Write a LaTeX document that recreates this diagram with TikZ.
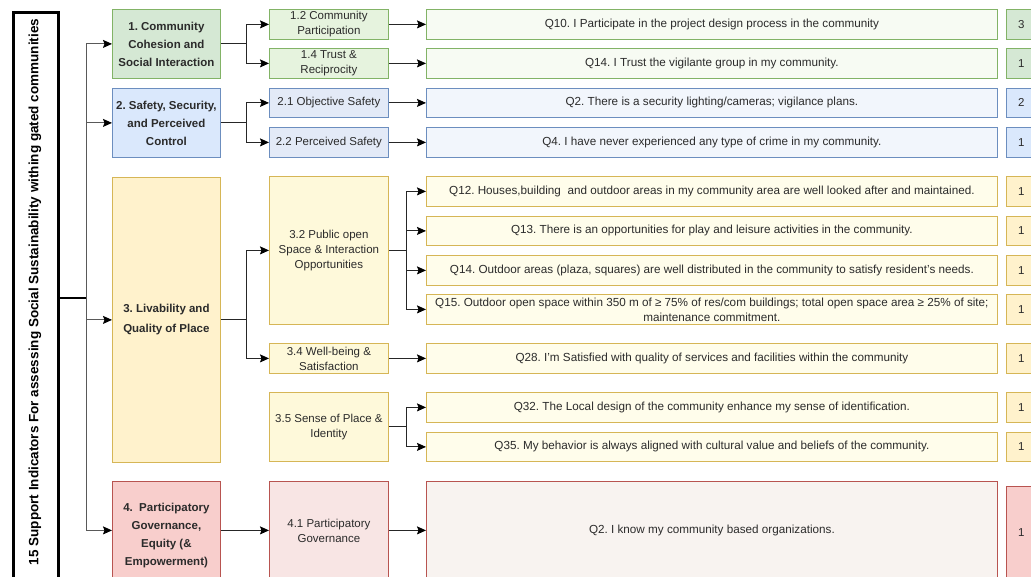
\documentclass[tikz,border=0pt]{standalone}
\usepackage{fontspec}
\setmainfont{Liberation Sans}
\usetikzlibrary{arrows.meta}
\frenchspacing

% fills and borders for the four dimensions
\definecolor{txt}{HTML}{2B2B2B}
\definecolor{gA}{HTML}{D5E8D4}\definecolor{gB}{HTML}{E6F3DE}\definecolor{gC}{HTML}{F7FBF3}\definecolor{gD}{HTML}{82B366}
\definecolor{bA}{HTML}{DAE8FC}\definecolor{bB}{HTML}{E3EAF7}\definecolor{bC}{HTML}{F2F6FC}\definecolor{bD}{HTML}{6C8EBF}
\definecolor{yA}{HTML}{FFF2CC}\definecolor{yB}{HTML}{FEF9DA}\definecolor{yC}{HTML}{FFFDEB}\definecolor{yD}{HTML}{D6B656}
\definecolor{rA}{HTML}{F8CECC}\definecolor{rB}{HTML}{F8E5E4}\definecolor{rC}{HTML}{F8F3F0}\definecolor{rD}{HTML}{B85450}

\tikzset{
  box/.style={draw, rectangle, anchor=north west, inner sep=2pt, align=center,
              text=txt, line width=0.8pt},
  dimbox/.style={box, minimum width=108, font=\fontsize{11.5}{18}\selectfont\bfseries},
  subbox/.style={box, minimum width=119, font=\fontsize{11.5}{15}\selectfont},
  qbox/.style={box, minimum width=571, font=\fontsize{11.7}{15}\selectfont},
  scorebox/.style={box, minimum width=30, font=\fontsize{11.5}{14}\selectfont},
  green/.style={fill=#1, draw=gD}, blue/.style={fill=#1, draw=bD},
  yellow/.style={fill=#1, draw=yD}, red/.style={fill=#1, draw=rD},
  tip/.style={-{Stealth[length=9pt,width=8pt,inset=1.5pt,color=black]}},
  link/.style={draw=black!85, line width=0.9pt},
  arr/.style={link, tip},
  trunkarr/.style={draw=black!65, line width=0.9pt, tip},
}

\begin{document}
\begin{tikzpicture}[x=1pt, y=-1pt]
\useasboundingbox (0,0) rectangle (1031,577);
\clip (0,0) rectangle (1031,577);
\fill[white] (0,0) rectangle (1031,577);

% title column
\node[draw=black, line width=2.6pt, anchor=north west, minimum width=45, minimum height=572,
      inner sep=0pt] (T) at (12,11) {};
\node[rotate=90, font=\fontsize{13.5}{15}\selectfont\bfseries, text=black] (Tt) at (35,292)
  {15 Support Indicators For assessing Social Sustainability withing gated communities};

% dimensions
\node[dimbox, green=gA, minimum height=69] (c1) at (112,9) {1. Community\\Cohesion and\\Social Interaction};
\node[dimbox, blue=bA, minimum height=69] (c2) at (112,88) {2. Safety, Security,\\and Perceived\\Control};
\node[dimbox, yellow=yA, minimum height=285, font=\fontsize{11.5}{20}\selectfont\bfseries] (c3) at (112,177) {3. Livability and\\Quality of Place};
\node[dimbox, red=rA, minimum height=108] (c4) at (112,481) {4.\ \ Participatory\\Governance,\\Equity (\&\\Empowerment)};

% sub-indicators
\node[subbox, green=gB, minimum height=30] (s12) at (269,9) {1.2 Community\\Participation};
\node[subbox, green=gB, minimum height=30] (s14) at (269,48) {1.4 Trust \&\\Reciprocity};
\node[subbox, blue=bB, minimum height=29] (s21) at (269,88) {2.1 Objective Safety};
\node[subbox, blue=bB, minimum height=30] (s22) at (269,127) {2.2 Perceived Safety};
\node[subbox, yellow=yB, minimum height=148] (s32) at (269,176) {3.2 Public open\\Space \& Interaction\\Opportunities};
\node[subbox, yellow=yB, minimum height=30] (s34) at (269,343) {3.4 Well-being \&\\Satisfaction};
\node[subbox, yellow=yB, minimum height=69] (s35) at (269,392) {3.5 Sense of Place \&\\Identity};
\node[subbox, red=rB, minimum height=98] (s41) at (269,481) {4.1 Participatory\\Governance};

% questionnaire items
\node[qbox, green=gC, minimum height=30] (q10) at (426,9) {Q10. I Participate in the project design process in the community};
\node[qbox, green=gC, minimum height=30] (q14) at (426,48) {Q14. I Trust the vigilante group in my community.};
\node[qbox, blue=bC, minimum height=29] (q2) at (426,88) {Q2. There is a security lighting/cameras; vigilance plans.};
\node[qbox, blue=bC, minimum height=30] (q4) at (426,127) {Q4. I have never experienced any type of crime in my community.};
\node[qbox, yellow=yC, minimum height=30] (q12) at (426,176) {Q12. Houses,building\ \ and outdoor areas in my community area are well looked after and maintained.};
\node[qbox, yellow=yC, minimum height=29] (q13) at (426,216) {Q13. There is an opportunities for play and leisure activities in the community.};
\node[qbox, yellow=yC, minimum height=30] (q14b) at (426,255) {Q14. Outdoor areas (plaza, squares) are well distributed in the community to satisfy resident's needs.};
\node[qbox, yellow=yC, minimum height=30] (q15) at (426,294) {Q15. Outdoor open space within 350 m of ≥ 75\% of res/com buildings; total open space area ≥ 25\% of site;\\maintenance commitment.};
\node[qbox, yellow=yC, minimum height=30] (q28) at (426,343) {Q28. I'm Satisfied with quality of services and facilities within the community};
\node[qbox, yellow=yC, minimum height=30] (q32) at (426,392) {Q32. The Local design of the community enhance my sense of identification.};
\node[qbox, yellow=yC, minimum height=29] (q35) at (426,432) {Q35. My behavior is always aligned with cultural value and beliefs of the community.};
\node[qbox, red=rC, minimum height=98] (q2b) at (426,481) {Q2. I know my community based organizations.};

% item counts
\node[scorebox, green=gA, minimum height=30] (n1) at (1006,9) {3};
\node[scorebox, green=gA, minimum height=30] (n2) at (1006,48) {1};
\node[scorebox, blue=bA, minimum height=29] (n3) at (1006,88) {2};
\node[scorebox, blue=bA, minimum height=30] (n4) at (1006,127) {1};
\node[scorebox, yellow=yA, minimum height=30] (n5) at (1006,176) {1};
\node[scorebox, yellow=yA, minimum height=29] (n6) at (1006,216) {1};
\node[scorebox, yellow=yA, minimum height=30] (n7) at (1006,255) {1};
\node[scorebox, yellow=yA, minimum height=30] (n8) at (1006,294) {1};
\node[scorebox, yellow=yA, minimum height=30] (n9) at (1006,343) {1};
\node[scorebox, yellow=yA, minimum height=30] (n10) at (1006,392) {1};
\node[scorebox, yellow=yA, minimum height=29] (n11) at (1006,432) {1};
\node[scorebox, red=rA, minimum height=92] (n12) at (1006,486) {1};

% trunk from the title column to the four dimensions
\path (T.east) ++(27,0) coordinate (J);
\draw[line width=1.6pt] (T.east) -- (J);
\draw[trunkarr] (J) |- (c1.west);
\draw[trunkarr] (J) |- (c2.west);
\draw[trunkarr] (J) |- (c3.west);
\draw[trunkarr] (J) |- ([yshift=5pt]c4.west);

% dimensions to sub-indicators
\path (c1.east) ++(26,0) coordinate (b1);
\draw[link] (c1.east) -- (b1);
\draw[arr] (b1) |- (s12.west);
\draw[arr] (b1) |- (s14.west);
\path (c2.east) ++(26,0) coordinate (b2);
\draw[link] (c2.east) -- (b2);
\draw[arr] (b2) |- (s21.west);
\draw[arr] (b2) |- (s22.west);
\path (c3.east) ++(26,0) coordinate (b3);
\draw[link] (c3.east) -- (b3);
\draw[arr] (b3) |- (s32.west);
\draw[arr] (b3) |- (s34.west);
\draw[arr] ([yshift=5pt]c4.east) -- (s41.west);

% sub-indicators to items
\draw[arr] (s12.east) -- (q10.west);
\draw[arr] (s14.east) -- (q14.west);
\draw[arr] (s21.east) -- (q2.west);
\draw[arr] (s22.east) -- (q4.west);
\path (s32.east) ++(18,0) coordinate (b4);
\draw[link] (s32.east) -- (b4);
\draw[arr] (b4) |- (q12.west);
\draw[arr] (b4) |- (q13.west);
\draw[arr] (b4) |- (q14b.west);
\draw[arr] (b4) |- (q15.west);
\draw[arr] (s34.east) -- (q28.west);
\path (s35.east) ++(18,0) coordinate (b5);
\draw[link] (s35.east) -- (b5);
\draw[arr] (b5) |- (q32.west);
\draw[arr] (b5) |- (q35.west);
\draw[arr] (s41.east) -- (q2b.west);
\end{tikzpicture}
\end{document}
